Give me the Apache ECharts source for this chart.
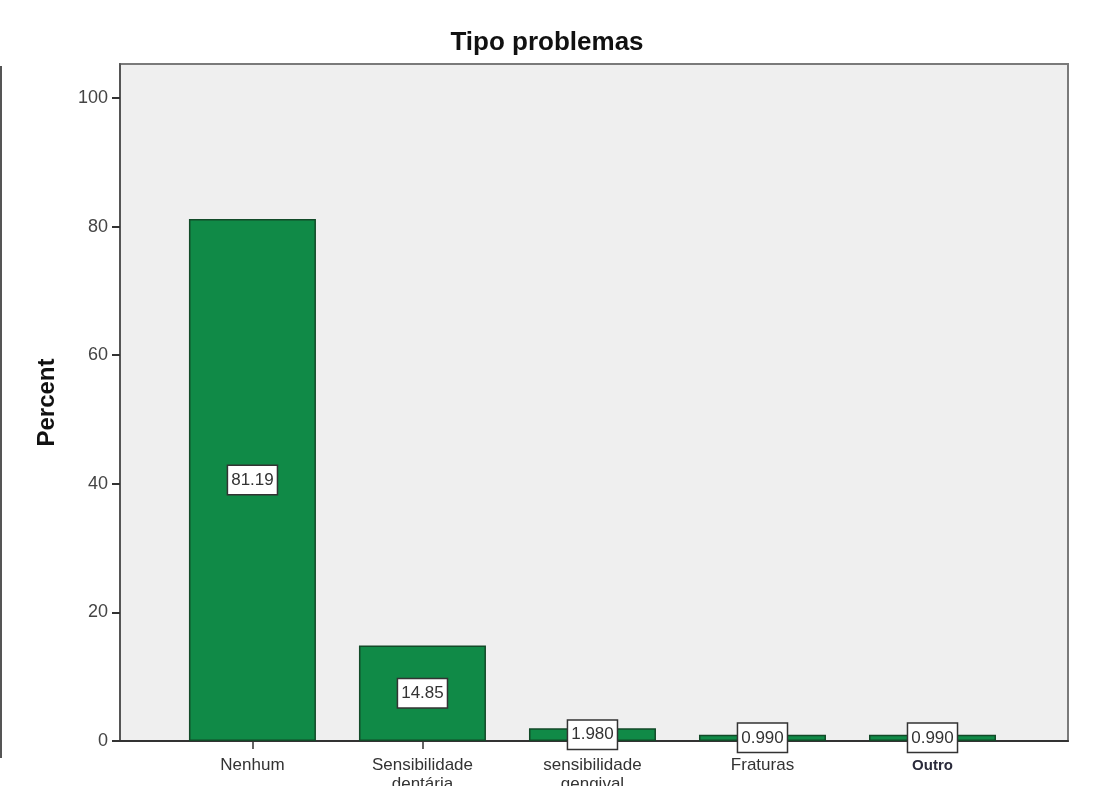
<!DOCTYPE html>
<html>
<head>
<meta charset="utf-8">
<title>Tipo problemas</title>
<script src="https://cdn.jsdelivr.net/npm/echarts@6/dist/echarts.min.js"></script>
<style>
  html, body { margin: 0; padding: 0; background: #ffffff; }
  #chart { width: 1110px; height: 786px; }
</style>
</head>
<body>
<div id="chart"></div>
<script>
// Categories (x axis) and their percentages
const categories = ['Nenhum', 'Sensibilidade\ndentária', 'sensibilidade\ngengival', 'Fraturas', 'Outro'];
const percents = [81.19, 14.85, 1.980, 0.990, 0.990];
const yTicks = [0, 20, 40, 60, 80, 100];

const FONT = '"Liberation Sans", Arial, sans-serif';
const positions = categories.map((_, i) => i);

const chart = echarts.init(document.getElementById('chart'), null, { renderer: 'canvas' });

chart.setOption({
  animation: false,
  backgroundColor: '#ffffff',
  title: {
    text: 'Tipo problemas',
    left: 547,
    textAlign: 'center',
    top: 30,
    padding: 0,
    textStyle: { fontFamily: FONT, fontWeight: 'bold', fontSize: 26, color: '#111' }
  },
  grid: {
    left: 120, right: 42, top: 64, bottom: 45,
    containLabel: false,
    outerBoundsMode: 'none',
    show: true,
    backgroundColor: '#efefef',
    borderColor: '#7a7a7a',
    borderWidth: 2
  },
  xAxis: {
    type: 'value',
    min: -0.779,
    max: 4.797,
    splitLine: { show: false },
    axisLine: { show: true, onZero: false, lineStyle: { color: '#333', width: 2 } },
    axisTick: {
      show: true, length: 8, customValues: positions,
      lineStyle: { color: '#333', width: 1.5 }
    },
    axisLabel: {
      customValues: positions,
      margin: 15,
      fontFamily: FONT,
      fontSize: 17,
      lineHeight: 19,
      color: '#333',
      formatter: v => {
        const name = categories[Math.round(v)];
        return name === 'Outro' ? '{o|' + name + '}' : name;
      },
      rich: {
        o: { fontFamily: FONT, fontSize: 15, fontWeight: 'bold', color: '#2a2a3a' }
      }
    }
  },
  yAxis: {
    type: 'value',
    min: 0,
    max: 105.3,
    name: 'Percent',
    nameLocation: 'middle',
    nameRotate: 90,
    nameGap: 61,
    nameTextStyle: { fontFamily: FONT, fontWeight: 'bold', fontSize: 24, color: '#111' },
    splitLine: { show: false },
    axisLine: { show: true, onZero: false, lineStyle: { color: '#555', width: 2 } },
    axisTick: {
      show: true, length: 8, customValues: yTicks,
      lineStyle: { color: '#333', width: 2 }
    },
    axisLabel: {
      customValues: yTicks,
      margin: 12,
      fontFamily: FONT,
      fontSize: 18,
      color: '#444'
    }
  },
  graphic: [
    {
      type: 'line',
      shape: { x1: 1, y1: 66, x2: 1, y2: 758 },
      style: { stroke: '#555', lineWidth: 2 }
    }
  ],
  series: [
    {
      type: 'bar',
      barWidth: 127,
      data: percents.map((v, i) => [i, v]),
      itemStyle: { color: '#108a47', borderColor: '#124a28', borderWidth: 1.5 },
      label: {
        show: true,
        position: 'inside',
        formatter: p => {
          const v = p.value[1];
          return v >= 10 ? v.toFixed(2) : v.toFixed(3);
        },
        fontFamily: FONT,
        fontSize: 17,
        color: '#333',
        backgroundColor: '#ffffff',
        borderColor: '#333',
        borderWidth: 1.5,
        padding: [6, 3, 5, 3]
      }
    }
  ]
});
</script>
</body>
</html>
